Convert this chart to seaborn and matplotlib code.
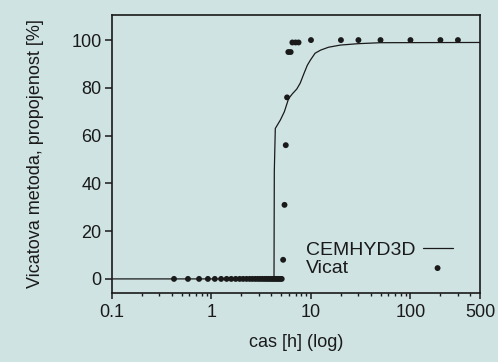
import matplotlib
matplotlib.use("Agg")
import matplotlib.pyplot as plt
import matplotlib.ticker as mticker
from matplotlib.offsetbox import DrawingArea
import seaborn as sns
import pandas as pd

# CEMHYD3D simulation curve
cem_time = [0.1, 4.25, 4.28, 4.38, 4.92, 5.4, 5.96, 6.5, 7.2, 7.8, 8.5, 9.2, 9.86,
            11.0, 12.5, 15.0, 19.7, 30.0, 50.0, 500.0]
cem_conn = [0, 0, 45, 63, 66.5, 70, 75.5, 77.5, 79.5, 82, 86, 89.5, 91.6,
            94.5, 95.8, 97, 97.9, 98.5, 98.9, 99]

# Vicat measurements
vicat_time = [0.42, 0.58, 0.75, 0.92, 1.08, 1.25, 1.42, 1.58, 1.75, 1.92, 2.08, 2.25,
              2.42, 2.58, 2.75, 2.92, 3.08, 3.25, 3.42, 3.58, 3.75, 3.92, 4.08, 4.25,
              4.42, 4.58, 4.75, 4.92, 5.08, 5.25, 5.42, 5.58, 5.75, 5.92, 6.25, 6.5,
              7.0, 7.5, 10, 20, 30, 50, 100, 200, 300]
vicat_conn = [0, 0, 0, 0, 0, 0, 0, 0, 0, 0, 0, 0,
              0, 0, 0, 0, 0, 0, 0, 0, 0, 0, 0, 0,
              0, 0, 0, 0, 0, 8, 31, 56, 76, 95, 95, 99,
              99, 99, 100, 100, 100, 100, 100, 100, 100]

x_ticks = [0.1, 1, 10, 100, 500]
x_ticklabels = ["0.1", "1", "10", "100", "500"]
y_ticks = [0, 20, 40, 60, 80, 100]

bg = "#d0e3e3"
ink = "#1a1a1a"
sns.set_theme(style="ticks")
plt.rcParams["font.family"] = ["Liberation Sans", "DejaVu Sans"]

fig = plt.figure(figsize=(4.98, 3.62), dpi=100, facecolor=bg)
ax = fig.add_axes([112 / 498, 1 - 293 / 362, (480 - 112) / 498, (293 - 15) / 362])
ax.set_facecolor(bg)

df_cem = pd.DataFrame({"t": cem_time, "p": cem_conn})
df_vic = pd.DataFrame({"t": vicat_time, "p": vicat_conn})

sns.lineplot(data=df_cem, x="t", y="p", ax=ax, color=ink, linewidth=0.9,
             label="CEMHYD3D", sort=False)
sns.scatterplot(data=df_vic, x="t", y="p", ax=ax, color=ink, s=18,
                edgecolor="none", label="Vicat", zorder=3)

ax.set_xscale("log")
ax.set_xlim(0.1, 500)
ax.set_ylim(-5.9, 110.5)
ax.set_xticks(x_ticks)
ax.set_xticklabels(x_ticklabels)
ax.xaxis.set_minor_locator(mticker.LogLocator(base=10, subs=[2, 3, 4, 5, 6, 7, 8, 9], numticks=20))
ax.xaxis.set_minor_formatter(mticker.NullFormatter())
ax.set_yticks(y_ticks)

for s in ax.spines.values():
    s.set_linewidth(1.2)
    s.set_color(ink)

ax.tick_params(axis="y", which="major", direction="out", length=5, width=1.1,
               labelsize=13, pad=2.5, colors=ink, left=True, right=False)
ax.tick_params(axis="x", which="major", direction="out", length=4, width=1.1,
               labelsize=13, pad=4, colors=ink, bottom=True, top=False)
ax.tick_params(axis="x", which="minor", direction="out", length=2.2, width=1.0,
               colors=ink, bottom=True, top=False)

ax.set_xlabel("cas [h] (log)", fontsize=13, color=ink, labelpad=9)
ax.set_ylabel("Vicatova metoda, propojenost [%]", fontsize=13, color=ink, labelpad=20)

leg = ax.legend(loc="upper left", bbox_to_anchor=(306 / 498, 1 - 241 / 362),
                bbox_transform=fig.transFigure, frameon=False, markerfirst=False,
                fontsize=14, borderpad=0, borderaxespad=0, handlelength=1.55,
                handletextpad=0.18, labelspacing=0.05)
for t in leg.get_texts():
    t.set_color(ink)

# left-align the labels while keeping the handles in one column
fig.canvas.draw()
renderer = fig.canvas.get_renderer()
widths = [t.get_window_extent(renderer).width for t in leg.get_texts()]
wmax = max(widths)
column = leg._legend_handle_box.get_children()[0]
for row, w in zip(column.get_children(), widths):
    row.get_children().insert(1, DrawingArea((wmax - w) * 72 / fig.dpi, 0))

fig.savefig("out.png", dpi=100, facecolor=bg)
